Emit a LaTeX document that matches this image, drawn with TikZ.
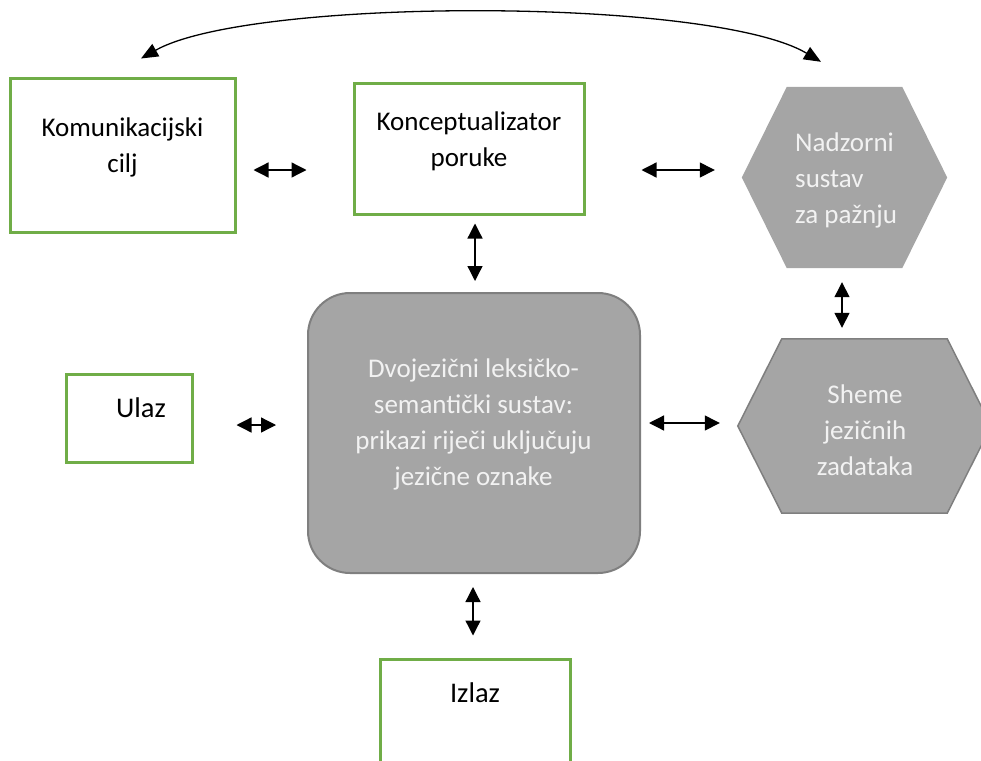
\documentclass[tikz,border=0pt]{standalone}
\usepackage{fontspec}
\setmainfont{Carlito}
\usetikzlibrary{arrows.meta,calc}
\definecolor{grn}{HTML}{70AD47}
\definecolor{gfill}{HTML}{A5A5A5}
\definecolor{gline}{HTML}{7F7F7F}
\definecolor{wtext}{HTML}{F2F2F2}
\begin{document}
\begin{tikzpicture}[x=1pt,y=-1pt,
  gbox/.style={draw=grn,line width=3pt,inner sep=0pt,fill=white},
  txt/.style={font=\fontsize{27}{36}\selectfont,text width=300pt,align=flush center,anchor=base,inner sep=0pt},
  bigtxt/.style={txt,font=\fontsize{28.5}{36}\selectfont},
  wtxt/.style={txt,text=wtext},
  dbl/.style={{Triangle[length=15pt,width=15pt]}-{Triangle[length=15pt,width=15pt]},line width=1.3pt},
  arcarrow/.style={{Triangle[length=17pt,width=14pt]}-{Triangle[length=17pt,width=14pt]},line width=1.3pt},
  hexbox/.style={inner sep=0pt}]
\useasboundingbox (0,0) rectangle (981,760);
% green boxes
\node[gbox,minimum width=225pt,minimum height=154pt] (kc) at (122.5,155) {};
\node[txt] (kct) at (122.5,136.5) {Komunikacijski\\cilj};
\node[gbox,minimum width=230pt,minimum height=131pt] (kp) at (469,148.5) {};
\node[txt] (kpt) at (469,130) {Konceptualizator\\poruke};
\node[gbox,minimum width=126pt,minimum height=88pt] (ul) at (129,418) {};
\node[bigtxt] (ult) at (141,417) {Ulaz};
\node[gbox,minimum width=190pt,minimum height=140pt] (iz) at (475,729) {};
\node[bigtxt] (izt) at (475,702) {Izlaz};
% central rounded box
\node[draw=gline,fill=gfill,line width=2pt,rounded corners=42pt,minimum width=332pt,minimum height=280pt] (dv) at (474,433) {};
\node[wtxt] (dvt) at (473.5,377) {Dvojezični leksičko-\\semantički sustav:\\prikazi riječi uključuju\\jezične oznake};
% hexagon 1
\node[hexbox,minimum width=205pt,minimum height=181pt] (nz) at (844.5,177.5) {};
\fill[gfill] (nz.west) -- ([xshift=45pt]nz.north west) -- ([xshift=-45pt]nz.north east) -- (nz.east) -- ([xshift=-45pt]nz.south east) -- ([xshift=45pt]nz.south west) -- cycle;
\node[wtxt,align=flush left,anchor=base west,text width=150pt] (nzt) at (795,151.5) {Nadzorni\\sustav\\za pažnju};
% hexagon 2
\node[hexbox,minimum width=253pt,minimum height=174pt] (sh) at (864.5,426) {};
\draw[fill=gfill,draw=gline,line width=1.5pt] (sh.west) -- ([xshift=44pt]sh.north west) -- ([xshift=-44pt]sh.north east) -- (sh.east) -- ([xshift=-44pt]sh.south east) -- ([xshift=44pt]sh.south west) -- cycle;
\node[wtxt] (sht) at (865,403) {Sheme\\jezičnih\\zadataka};
% connectors
\draw[dbl] ([shift={(17,15)}]kc.east) -- ([shift={(-46,21.5)}]kp.west);
\draw[dbl] ([shift={(56,21.5)}]kp.east) -- ([shift={(-27,-7.5)}]nz.west);
\draw[dbl] ([shift={(6,8)}]kp.south) -- ([shift={(1,-11)}]dv.north);
\draw[dbl] ([shift={(-2.5,14)}]nz.south) -- ([shift={(-22.5,-11)}]sh.north);
\draw[dbl] ([shift={(43,7)}]ul.east) -- ([shift={(-31,-8)}]dv.west);
\draw[dbl] ([shift={(8,-10)}]dv.east) -- ([shift={(-18,-3)}]sh.west);
\draw[dbl] ([shift={(-1,13)}]dv.south) -- ([shift={(-2,-22)}]iz.north);
\draw[arcarrow] ([shift={(18.5,-18)}]kc.north) .. controls (250,-3) and (712,-3) .. ([shift={(-23.5,-25)}]nz.north);
\end{tikzpicture}
\end{document}
